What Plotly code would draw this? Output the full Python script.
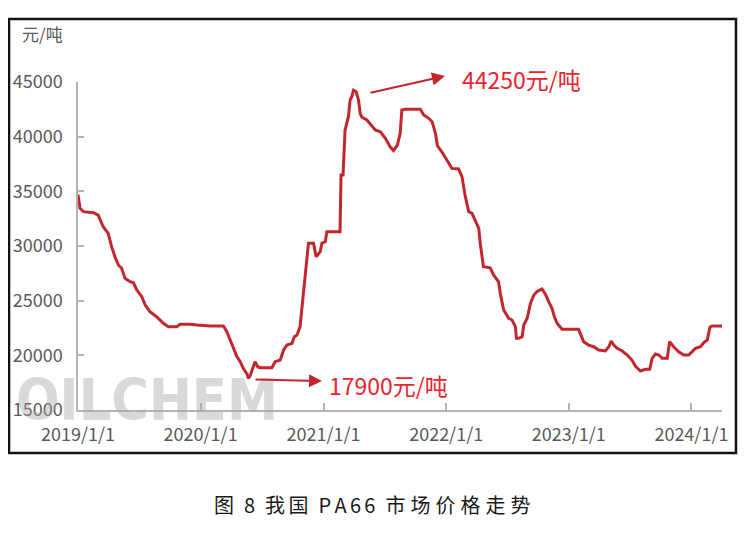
import plotly.graph_objects as go

# ---- data ----
dates = [
    "2019-01-01", "2019-01-07", "2019-01-17", "2019-02-16", "2019-03-02", "2019-03-17",
    "2019-04-01", "2019-04-11", "2019-04-21", "2019-05-01", "2019-05-11", "2019-05-21",
    "2019-06-05", "2019-06-15", "2019-06-25", "2019-07-10", "2019-07-20", "2019-08-03",
    "2019-08-23", "2019-09-12", "2019-09-27", "2019-10-22", "2019-11-01", "2019-12-01",
    "2019-12-21", "2020-01-29", "2020-03-09", "2020-03-19", "2020-03-29", "2020-04-08",
    "2020-04-18", "2020-04-28", "2020-05-07", "2020-05-18", "2020-05-22", "2020-05-27",
    "2020-06-03", "2020-06-11", "2020-06-19", "2020-06-26", "2020-07-31", "2020-08-10",
    "2020-08-25", "2020-09-04", "2020-09-14", "2020-09-29", "2020-10-06", "2020-10-14",
    "2020-10-23", "2020-10-28", "2020-11-02", "2020-11-09", "2020-11-17", "2020-12-02",
    "2020-12-10", "2020-12-22", "2020-12-27", "2021-01-06", "2021-01-11", "2021-02-19",
    "2021-02-22", "2021-02-28", "2021-03-03", "2021-03-06", "2021-03-16", "2021-03-21",
    "2021-03-26", "2021-03-31", "2021-04-08", "2021-04-15", "2021-04-20", "2021-04-25",
    "2021-05-10", "2021-05-25", "2021-06-04", "2021-06-19", "2021-07-04", "2021-07-18",
    "2021-07-28", "2021-08-09", "2021-08-17", "2021-08-22", "2021-09-01", "2021-10-16",
    "2021-10-26", "2021-11-10", "2021-11-20", "2021-11-30", "2021-12-06", "2021-12-19",
    "2022-01-03", "2022-01-18", "2022-02-07", "2022-02-17", "2022-02-27", "2022-03-09",
    "2022-03-19", "2022-03-29", "2022-04-08", "2022-04-13", "2022-04-22", "2022-05-12",
    "2022-05-22", "2022-06-06", "2022-06-11", "2022-06-21", "2022-07-06", "2022-07-16",
    "2022-07-26", "2022-07-29", "2022-08-05", "2022-08-15", "2022-08-20", "2022-08-30",
    "2022-09-09", "2022-09-19", "2022-09-28", "2022-10-13", "2022-10-23", "2022-11-02",
    "2022-11-12", "2022-11-19", "2022-11-27", "2022-12-12", "2023-01-30", "2023-02-04",
    "2023-02-14", "2023-03-01", "2023-03-16", "2023-03-31", "2023-04-20", "2023-04-30",
    "2023-05-07", "2023-05-15", "2023-05-25", "2023-06-09", "2023-06-24", "2023-07-08",
    "2023-07-18", "2023-08-02", "2023-08-17", "2023-08-30", "2023-09-06", "2023-09-16",
    "2023-09-26", "2023-10-06", "2023-10-21", "2023-10-28", "2023-11-09", "2023-11-24",
    "2023-12-09", "2023-12-24", "2024-01-03", "2024-01-13", "2024-01-28", "2024-02-07",
    "2024-02-17", "2024-02-25", "2024-03-03", "2024-04-01",
]
prices = [
    34700, 33450, 33140, 33050, 32830, 31760,
    31160, 29940, 29020, 28260, 27960, 27040,
    26730, 26640, 25980, 25360, 24600, 23990,
    23530, 22930, 22620, 22620, 22840, 22840,
    22770, 22680, 22680, 22160, 21400, 20640,
    19880, 19420, 18810, 18290, 17900, 18110,
    18660, 19420, 18960, 18870, 18870, 19420,
    19570, 20490, 20940, 21100, 21700, 21860,
    22620, 24150, 26280, 28420, 30250, 30250,
    29020, 29480, 30250, 30400, 31310, 31310,
    36490, 36490, 39540, 40610, 41830, 43350,
    43660, 44250, 44110, 43350, 42140, 41770,
    41520, 40910, 40610, 40450, 39850, 39080,
    38720, 39240, 40310, 42440, 42500, 42500,
    41980, 41680, 41370, 40310, 39160, 38620,
    37860, 37100, 37040, 36340, 34510, 33140,
    32990, 32220, 31620, 30090, 28110, 28010,
    27350, 26730, 25670, 24150, 23390, 23230,
    22620, 21560, 21560, 21700, 22770, 23390,
    24760, 25520, 25820, 26070, 25610, 24910,
    24300, 23530, 22930, 22380, 22380, 22010,
    21250, 20940, 20790, 20490, 20400, 20790,
    21310, 20940, 20640, 20400, 20030, 19570,
    19020, 18570, 18720, 18720, 19730, 20120,
    20030, 19730, 19730, 21250, 20790, 20330,
    20030, 20030, 20330, 20640, 20790, 21160,
    21400, 22560, 22680, 22680,
]
x_tick_vals = ["2019-01-01", "2020-01-01", "2021-01-01", "2022-01-01", "2023-01-01", "2024-01-01"]
x_tick_text = ["2019/1/1", "2020/1/1", "2021/1/1", "2022/1/1", "2023/1/1", "2024/1/1"]
y_tick_vals = [15000, 20000, 25000, 30000, 35000, 40000, 45000]
y_tick_text = ["15000", "20000", "25000", "30000", "35000", "40000", "45000"]
y_unit = "元/吨"
high_label = "44250元/吨"
low_label = "17900元/吨"
caption = ("图\u20028\u2002我\u2006国\u2002P\u2006A\u20066\u20066\u2002"
           "市\u2005场\u2005价\u2005格\u2005走\u2005势")
watermark = "OILCHEM"

FONT = "Noto Sans CJK SC"
LINE_RED = "#C1272D"
TEXT_RED = "#E8252E"
AXIS_GREY = "#B3B3B3"
TICK_GREY = "#595959"

fig = go.Figure()
fig.add_trace(go.Scatter(
    x=dates, y=prices, mode="lines",
    line=dict(color=LINE_RED, width=3),
    hoverinfo="skip", showlegend=False,
))

# the page body adds an 8px offset; margins compensate for it
fig.update_layout(
    width=756, height=541,
    margin=dict(l=70, r=42, t=74, b=139, autoexpand=False),
    paper_bgcolor="white", plot_bgcolor="white",
    font=dict(family=FONT, size=18, color=TICK_GREY),
    showlegend=False,
)
fig.update_xaxes(
    range=["2019-01-01", "2024-04-01"],
    tickmode="array", tickvals=x_tick_vals, ticktext=x_tick_text,
    showgrid=False, zeroline=False, automargin=False,
    showline=True, linecolor=AXIS_GREY, linewidth=1.5,
    ticks="inside", ticklen=7, tickcolor=AXIS_GREY, tickwidth=1.5,
    ticklabelstandoff=8,
    tickfont=dict(family=FONT, size=18, color=TICK_GREY),
)
fig.update_yaxes(
    range=[15000, 45000],
    tickmode="array", tickvals=y_tick_vals, ticktext=y_tick_text,
    showgrid=False, zeroline=False, automargin=False,
    showline=True, linecolor=AXIS_GREY, linewidth=1.5,
    ticks="inside", ticklen=6, tickcolor=AXIS_GREY, tickwidth=1.5,
    ticklabelstandoff=10,
    tickfont=dict(family=FONT, size=18, color=TICK_GREY),
)

# outer frame
fig.add_shape(type="rect", xref="paper", yref="paper",
              x0=-0.1071, x1=1.0217, y0=-0.1311, y1=1.1921,
              line=dict(color="#111111", width=2.5), layer="above")

annotations = [
    dict(text="<b>" + watermark + "</b>", xref="paper", yref="paper", x=0.107, y=0.0305,
         showarrow=False, xanchor="center", yanchor="middle",
         font=dict(family="DejaVu Sans Condensed, Liberation Sans", size=57,
                   color="rgba(165,165,165,0.42)")),
    dict(text=y_unit, xref="paper", yref="paper", x=-0.0559, y=1.149,
         showarrow=False, xanchor="center", yanchor="middle",
         font=dict(family=FONT, size=17, color=TICK_GREY)),
    dict(text=high_label, xref="paper", yref="paper", x=0.688, y=1.009,
         showarrow=False, xanchor="center", yanchor="middle",
         font=dict(family=FONT, size=23, color=TEXT_RED)),
    dict(text=low_label, xref="paper", yref="paper", x=0.4829, y=0.0762,
         showarrow=False, xanchor="center", yanchor="middle",
         font=dict(family=FONT, size=23, color=TEXT_RED)),
    dict(text="", xref="paper", yref="paper", x=0.5699, y=1.0183,
         ax=-76, ay=17, showarrow=True, arrowhead=2, arrowsize=1.3,
         arrowwidth=2, arrowcolor=LINE_RED),
    dict(text="", xref="paper", yref="paper", x=0.3789, y=0.0884,
         ax=-68, ay=-1.5, showarrow=True, arrowhead=2, arrowsize=1.3,
         arrowwidth=2, arrowcolor=LINE_RED),
    dict(text=caption, xref="paper", yref="paper", x=0.4565, y=-0.2866,
         showarrow=False, xanchor="center", yanchor="middle",
         font=dict(family=FONT, size=20, color="#1a1a1a")),
]
fig.update_layout(annotations=annotations)

fig.write_html("out.html")
